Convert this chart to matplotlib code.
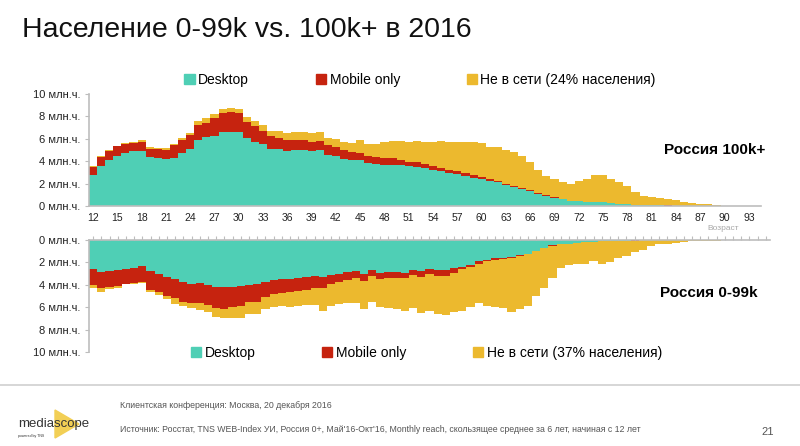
import matplotlib

matplotlib.use("Agg")
import matplotlib.pyplot as plt
import numpy as np
from matplotlib.patches import Patch, Polygon

plt.rcParams["font.family"] = ["Liberation Sans", "DejaVu Sans"]

ages = np.arange(12, 95)
age_ticks = list(range(12, 94, 3))

# Россия 100k+ : stack boundaries (млн. человек)
big_desktop = [2.8, 3.6, 4.15, 4.5, 4.7, 4.87, 4.9, 4.36, 4.27, 4.18, 4.33, 4.75, 5.05, 5.85,
               6.14, 6.26, 6.65, 6.65, 6.6, 6.03, 5.72, 5.57, 5.1, 5.11, 4.94, 4.98, 4.98, 4.9,
               4.97, 4.59, 4.47, 4.24, 4.15, 4.14, 3.87, 3.78, 3.69, 3.66, 3.62, 3.56, 3.48, 3.39,
               3.24, 3.15, 2.97, 2.82, 2.7, 2.52, 2.4, 2.23, 2.1, 1.87, 1.66, 1.48, 1.3, 1.1,
               0.89, 0.74, 0.59, 0.45, 0.42, 0.39, 0.36, 0.33, 0.27, 0.21, 0.18, 0.12, 0.09, 0.07,
               0.05, 0.04, 0.03, 0.02, 0.02, 0.01, 0.01, 0.0, 0.0, 0.0, 0.0, 0.0, 0.0]
big_online = [3.5, 4.4, 4.95, 5.35, 5.5, 5.65, 5.7, 5.1, 5.07, 5.04, 5.43, 5.9, 6.3, 7.24,
              7.45, 7.9, 8.3, 8.37, 8.28, 7.5, 7.15, 6.74, 6.26, 6.1, 5.9, 5.91, 5.91, 5.74,
              5.83, 5.43, 5.23, 4.97, 4.79, 4.76, 4.43, 4.37, 4.3, 4.25, 4.1, 3.94, 3.92, 3.76,
              3.55, 3.41, 3.23, 3.09, 2.91, 2.73, 2.61, 2.4, 2.25, 1.99, 1.78, 1.6, 1.4, 1.16,
              0.95, 0.77, 0.62, 0.47, 0.43, 0.4, 0.37, 0.34, 0.28, 0.22, 0.19, 0.13, 0.1, 0.08,
              0.06, 0.05, 0.04, 0.03, 0.02, 0.01, 0.01, 0.0, 0.0, 0.0, 0.0, 0.0, 0.0]
big_total = [3.56, 4.45, 5.0, 5.4, 5.6, 5.75, 5.85, 5.28, 5.22, 5.16, 5.55, 6.05, 6.55, 7.57,
             7.86, 8.25, 8.7, 8.78, 8.7, 7.95, 7.57, 7.27, 6.73, 6.7, 6.5, 6.6, 6.6, 6.5,
             6.57, 6.1, 6.0, 5.72, 5.65, 5.87, 5.5, 5.58, 5.74, 5.83, 5.8, 5.7, 5.77, 5.72,
             5.72, 5.76, 5.7, 5.67, 5.67, 5.73, 5.61, 5.31, 5.25, 4.96, 4.81, 4.42, 3.89, 3.23,
             2.64, 2.43, 2.14, 1.93, 2.23, 2.43, 2.76, 2.76, 2.4, 2.14, 1.78, 1.25, 0.89, 0.8,
             0.74, 0.62, 0.5, 0.39, 0.3, 0.21, 0.15, 0.06, 0.03, 0.01, 0.01, 0.01, 0.0]

# Россия 0-99k
small_desktop = [2.63, 2.9, 2.75, 2.72, 2.58, 2.46, 2.34, 2.79, 3.08, 3.29, 3.5, 3.73, 3.94, 3.82,
                 4.03, 4.2, 4.23, 4.17, 4.11, 4.03, 3.97, 3.73, 3.55, 3.47, 3.44, 3.38, 3.29, 3.2,
                 3.29, 3.14, 3.05, 2.87, 2.76, 3.08, 2.66, 2.96, 2.84, 2.84, 2.93, 2.66, 2.78, 2.57,
                 2.69, 2.66, 2.54, 2.37, 2.19, 1.9, 1.75, 1.63, 1.6, 1.54, 1.33, 1.21, 0.95, 0.68,
                 0.47, 0.38, 0.32, 0.26, 0.2, 0.15, 0.12, 0.1, 0.07, 0.05, 0.04, 0.03, 0.02, 0.02,
                 0.01, 0.01, 0.0, 0.0, 0.0, 0.0, 0.0, 0.0, 0.0, 0.0, 0.0, 0.0, 0.0]
small_online = [4.03, 4.33, 4.2, 4.09, 3.91, 3.82, 3.73, 4.44, 4.68, 4.97, 5.21, 5.51, 5.6, 5.6,
                5.8, 6.04, 6.16, 5.95, 5.87, 5.51, 5.51, 5.06, 4.86, 4.77, 4.68, 4.56, 4.47, 4.27,
                4.33, 3.91, 3.79, 3.58, 3.43, 3.67, 3.23, 3.5, 3.35, 3.35, 3.41, 3.14, 3.26, 3.05,
                3.2, 3.17, 2.93, 2.63, 2.43, 2.1, 1.9, 1.75, 1.69, 1.63, 1.42, 1.27, 1.0, 0.72,
                0.5, 0.4, 0.34, 0.27, 0.21, 0.16, 0.13, 0.11, 0.08, 0.06, 0.05, 0.04, 0.03, 0.02,
                0.01, 0.01, 0.0, 0.0, 0.0, 0.0, 0.0, 0.0, 0.0, 0.0, 0.0, 0.0, 0.0]
small_total = [4.33, 4.62, 4.41, 4.27, 3.97, 3.91, 3.88, 4.62, 4.92, 5.27, 5.69, 5.87, 6.04, 6.28,
               6.46, 6.87, 6.99, 6.93, 6.99, 6.6, 6.6, 6.16, 5.95, 5.87, 5.95, 5.9, 5.81, 5.81,
               6.34, 5.87, 5.72, 5.66, 5.6, 6.16, 5.57, 5.95, 6.04, 6.16, 6.34, 6.04, 6.49, 6.34,
               6.58, 6.7, 6.46, 6.37, 5.98, 5.66, 5.87, 5.98, 6.04, 6.4, 6.16, 5.9, 5.0, 4.27,
               3.37, 2.46, 2.25, 2.1, 2.1, 1.9, 2.1, 1.95, 1.57, 1.42, 1.06, 0.86, 0.53, 0.32,
               0.38, 0.23, 0.17, 0.12, 0.09, 0.06, 0.05, 0.03, 0.02, 0.01, 0.0, 0.0, 0.0]

big_offline_share = 24
small_offline_share = 37

C_DESK = "#4fcfb5"
C_MOB = "#c6230f"
C_OFF = "#ecb92e"
C_AXIS = "#bdbdbd"
y_ticks = [0, 2, 4, 6, 8, 10]
y_labels = [f"{v} млн.ч." for v in y_ticks]


def stacked(ax, desk, online, total):
    desk = np.asarray(desk)
    mob = np.asarray(online) - desk
    off = np.asarray(total) - np.asarray(online)
    kw = dict(width=1.0, linewidth=0, align="center")
    ax.bar(ages, desk, color=C_DESK, **kw)
    ax.bar(ages, mob, bottom=desk, color=C_MOB, **kw)
    ax.bar(ages, off, bottom=desk + mob, color=C_OFF, **kw)
    ax.set_xlim(ages[0] - 0.5, ages[-1] + 0.5)
    ax.set_ylim(0, 10)
    ax.set_yticks(y_ticks)
    ax.set_yticklabels(y_labels)
    ax.tick_params(axis="y", length=3, color=C_AXIS, labelsize=8, pad=3, labelcolor="#222222")
    for s in ax.spines.values():
        s.set_color(C_AXIS)
        s.set_linewidth(1.2)
    ax.spines["right"].set_visible(False)


def legend(share, y, x):
    handles = [Patch(color=C_DESK), Patch(color=C_MOB), Patch(color=C_OFF)]
    labels = ["Desktop", "Mobile only", f"Не в сети ({share}% населения)"]
    fig.legend(handles, labels, ncol=3, loc="center", bbox_to_anchor=(x, y), frameon=False,
               fontsize=10, handlelength=0.75, handleheight=0.75, handletextpad=0.25,
               columnspacing=4.8, borderaxespad=0)


fig = plt.figure(figsize=(8, 4.46), dpi=100)

ax1 = fig.add_axes([89 / 800, 1 - 206 / 446, 672 / 800, 112 / 446])
stacked(ax1, big_desktop, big_online, big_total)
ax1.spines["top"].set_visible(False)
ax1.set_xticks(age_ticks)
ax1.tick_params(axis="x", length=0, labelsize=7.5, pad=5, labelcolor="#222222")
ax1.text(1.006, 0.5, "Россия 100k+", transform=ax1.transAxes, ha="right", va="center",
         fontsize=11, fontweight="bold")
ax1.text(0.968, -0.2, "Возраст", transform=ax1.transAxes, ha="right", va="center",
         fontsize=6, color="#a8a8a8")

ax2 = fig.add_axes([89 / 800, 1 - 352 / 446, 681 / 800, 112 / 446])
stacked(ax2, small_desktop, small_online, small_total)
ax2.invert_yaxis()
ax2.spines["bottom"].set_visible(False)
ax2.xaxis.tick_top()
ax2.set_xticks(ages)
ax2.tick_params(axis="x", length=3, color=C_AXIS, labeltop=False, labelbottom=False)
ax2.text(0.982, 0.53, "Россия 0-99k", transform=ax2.transAxes, ha="right", va="center",
         fontsize=11, fontweight="bold")

legend(big_offline_share, 1 - 80 / 446, 0.525)
legend(small_offline_share, 1 - 353 / 446, 0.533)

fig.text(22 / 800, 1 - 30 / 446, "Население 0-99k vs. 100k+ в 2016", fontsize=20.5,
         va="center", ha="left", color="#111111")

# footer
fig.add_artist(plt.Line2D([0, 1], [1 - 385 / 446] * 2, color="#d0d0d0", lw=1.2))
foot = dict(fontsize=6.3, color="#555555", va="center", ha="left",
            family=["Liberation Sans Narrow", "Liberation Sans"])
fig.text(120 / 800, 1 - 405 / 446, "Клиентская конференция: Москва, 20 декабря 2016", **foot)
fig.text(120 / 800, 1 - 429 / 446,
         "Источник: Росстат, TNS WEB-Index УИ, Россия 0+, Май'16-Окт'16, Monthly reach, "
         "скользящее среднее за 6 лет, начиная с 12 лет", **foot)
fig.text(768 / 800, 1 - 432 / 446, "21", fontsize=8, color="#555555", ha="center", va="center")

tri = Polygon([[55 / 800, 1 - 410 / 446], [55 / 800, 1 - 438 / 446], [79 / 800, 1 - 424 / 446]],
              closed=True, transform=fig.transFigure, color="#f2cf55", zorder=0)
fig.add_artist(tri)
fig.text(18 / 800, 1 - 424 / 446, "mediascope", fontsize=9.5, color="#333333",
         va="center", ha="left")
fig.text(18 / 800, 1 - 436 / 446, "powered by TNS", fontsize=2.5, color="#333333",
         va="center", ha="left")

fig.savefig("out.png", dpi=100)
